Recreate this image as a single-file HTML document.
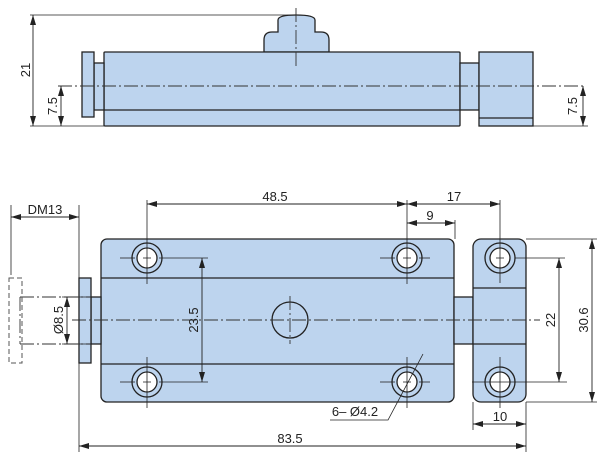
<!DOCTYPE html>
<html><head><meta charset="utf-8"><style>
html,body{margin:0;padding:0;background:#fff;width:600px;height:453px;overflow:hidden}
svg{display:block}
text{font-family:"Liberation Sans",sans-serif;font-size:13px;fill:#222}
</style></head><body>
<svg width="600" height="453" viewBox="0 0 600 453" xmlns="http://www.w3.org/2000/svg">
<defs>
<marker id="a" viewBox="0 0 10 6" refX="10" refY="3" markerWidth="10" markerHeight="6" orient="auto-start-reverse" markerUnits="userSpaceOnUse"><path d="M0,0 L10,3 L0,6 Z" fill="#222"/></marker>
</defs>
<g fill="#bdd4ee" stroke="#222" stroke-width="1.3">
<path d="M264,52 L264,40 Q264,32 272,32 L278,32 L278,20 Q278,15 296,15 Q315,15 315,20 L315,32 L321,32 Q329,32 329,40 L329,52 Z"/>
<rect x="104" y="52" width="356" height="74" rx="1"/>
<line x1="104" y1="110" x2="460" y2="110"/>
<rect x="94" y="63" width="10" height="47"/>
<rect x="82" y="52" width="12" height="65"/>
<rect x="460" y="63" width="19" height="47"/>
<rect x="479" y="52" width="54" height="74"/>
<line x1="479" y1="118" x2="533" y2="118"/>
<rect x="101" y="239" width="353" height="163" rx="6"/>
<line x1="101" y1="278" x2="454" y2="278"/>
<line x1="101" y1="364" x2="454" y2="364"/>
<rect x="91" y="297" width="10" height="47"/>
<rect x="79" y="278" width="12" height="85"/>
<rect x="454" y="297" width="19" height="47"/>
<rect x="473" y="239" width="53" height="163" rx="8"/>
<line x1="473" y1="288" x2="526" y2="288"/>
<line x1="473" y1="344" x2="526" y2="344"/>
<circle cx="290" cy="320" r="18"/>
</g>
<g stroke="#222" stroke-width="1.3" fill="#bdd4ee">
<circle cx="147" cy="258" r="15"/><circle cx="147" cy="382" r="15"/>
<circle cx="407" cy="258" r="15"/><circle cx="407" cy="382" r="15"/>
<circle cx="500" cy="258" r="15"/><circle cx="500" cy="382" r="15"/>
</g>
<g stroke="#222" stroke-width="1.3" fill="#fff">
<circle cx="147" cy="258" r="10"/><circle cx="147" cy="382" r="10"/>
<circle cx="407" cy="258" r="10"/><circle cx="407" cy="382" r="10"/>
<circle cx="500" cy="258" r="10"/><circle cx="500" cy="382" r="10"/>
</g>
<g stroke="#333" stroke-width="0.9" fill="none" stroke-dasharray="14,3,2,3">
<line x1="58" y1="86" x2="585" y2="86"/>
<line x1="296" y1="8" x2="296" y2="68"/>
<line x1="72" y1="320" x2="540" y2="320"/>
<line x1="290" y1="296" x2="290" y2="344"/>
<line x1="20" y1="297" x2="91" y2="297"/>
<line x1="20" y1="344" x2="91" y2="344"/>
<line x1="20" y1="297" x2="20" y2="344"/>
</g>
<g stroke="#555" stroke-width="1" fill="none" stroke-dasharray="5,3">
<path d="M9,278 L22,278 L22,363 L9,363 Z"/>
</g>
<g stroke="#222" stroke-width="0.8" fill="none">
<line x1="120" y1="258" x2="135" y2="258"/><line x1="159" y1="258" x2="180" y2="258"/><line x1="147" y1="233" x2="147" y2="284"/>
<line x1="120" y1="382" x2="135" y2="382"/><line x1="159" y1="382" x2="180" y2="382"/><line x1="147" y1="357" x2="147" y2="408"/>
<line x1="380" y1="258" x2="395" y2="258"/><line x1="419" y1="258" x2="430" y2="258"/><line x1="407" y1="233" x2="407" y2="284"/>
<line x1="380" y1="382" x2="395" y2="382"/><line x1="419" y1="382" x2="430" y2="382"/><line x1="407" y1="357" x2="407" y2="408"/>
<line x1="472" y1="382" x2="567" y2="382"/><line x1="500" y1="357" x2="500" y2="408"/>
<line x1="180" y1="258" x2="208" y2="258"/>
<line x1="515" y1="258" x2="565" y2="258"/>
<line x1="143" y1="258" x2="151" y2="258"/><line x1="403" y1="258" x2="411" y2="258"/>
<line x1="143" y1="382" x2="151" y2="382"/><line x1="403" y1="382" x2="411" y2="382"/>
<line x1="496" y1="258" x2="504" y2="258"/>
<line x1="30" y1="15" x2="296" y2="15"/>
<line x1="30" y1="126" x2="104" y2="126"/>
<line x1="533" y1="126" x2="588" y2="126"/>
<line x1="147" y1="200" x2="147" y2="233"/>
<line x1="407" y1="200" x2="407" y2="233"/>
<line x1="455" y1="220" x2="455" y2="239"/>
<line x1="500" y1="200" x2="500" y2="283"/>
<line x1="11" y1="205" x2="11" y2="275"/>
<line x1="79" y1="205" x2="79" y2="452"/>
<line x1="526" y1="239" x2="597" y2="239"/>
<line x1="526" y1="402" x2="597" y2="402"/>
<line x1="473" y1="402" x2="473" y2="430"/>
<line x1="526" y1="402" x2="526" y2="452"/>
<line x1="62" y1="297" x2="91" y2="297"/>
<line x1="62" y1="344" x2="91" y2="344"/>
<line x1="180" y1="382" x2="208" y2="382"/>
<polyline points="423,354 388,420 330,420"/>
</g>
<g stroke="#222" stroke-width="0.9" fill="none" marker-start="url(#a)" marker-end="url(#a)">
<line x1="33" y1="15" x2="33" y2="126"/>
<line x1="61" y1="86" x2="61" y2="126"/>
<line x1="583" y1="86" x2="583" y2="126"/>
<line x1="147" y1="204" x2="407" y2="204"/>
<line x1="407" y1="204" x2="500" y2="204"/>
<line x1="407" y1="223" x2="455" y2="223"/>
<line x1="11" y1="217" x2="79" y2="217"/>
<line x1="67" y1="297" x2="67" y2="344"/>
<line x1="202" y1="258" x2="202" y2="382"/>
<line x1="559" y1="258" x2="559" y2="382"/>
<line x1="592" y1="239" x2="592" y2="402"/>
<line x1="473" y1="424" x2="526" y2="424"/>
<line x1="79" y1="446" x2="526" y2="446"/>
</g>
<text x="30" y="70" text-anchor="middle" transform="rotate(-90 30 70)">21</text>
<text x="57" y="106" text-anchor="middle" transform="rotate(-90 57 106)">7.5</text>
<text x="577" y="106" text-anchor="middle" transform="rotate(-90 577 106)">7.5</text>
<text x="275" y="201" text-anchor="middle">48.5</text>
<text x="454" y="201" text-anchor="middle">17</text>
<text x="430" y="220" text-anchor="middle">9</text>
<text x="45" y="214" text-anchor="middle">DM13</text>
<text x="63" y="320" text-anchor="middle" transform="rotate(-90 63 320)">Ø8.5</text>
<text x="198" y="320" text-anchor="middle" transform="rotate(-90 198 320)">23.5</text>
<text x="555" y="320" text-anchor="middle" transform="rotate(-90 555 320)">22</text>
<text x="588" y="320" text-anchor="middle" transform="rotate(-90 588 320)">30.6</text>
<text x="500" y="421" text-anchor="middle">10</text>
<text x="355" y="416" text-anchor="middle">6– Ø4.2</text>
<text x="290" y="443" text-anchor="middle">83.5</text>
</svg>
</body></html>
